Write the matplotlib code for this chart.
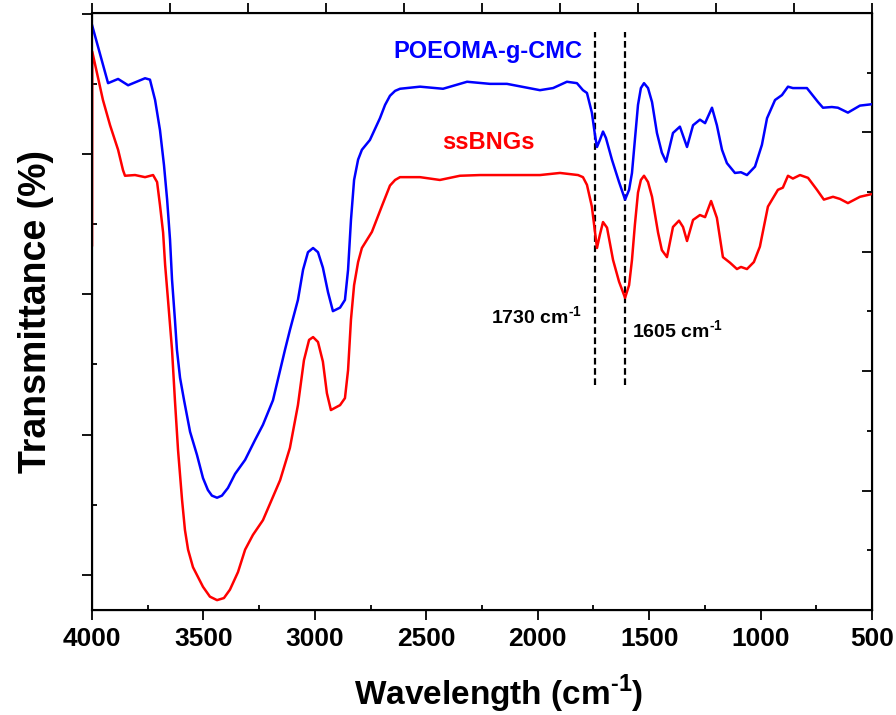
import numpy as np
import matplotlib
matplotlib.use("Agg")
import matplotlib.pyplot as plt
from matplotlib.ticker import MultipleLocator

# global style
plt.rcParams['font.family'] = ['Liberation Sans', 'DejaVu Sans']
plt.rcParams['font.weight'] = 'bold'
plt.rcParams['mathtext.fontset'] = 'custom'
plt.rcParams['mathtext.rm'] = 'Liberation Sans:bold'
plt.rcParams['mathtext.bf'] = 'Liberation Sans:bold'

# POEOMA-g-CMC spectrum (wavenumber, transmittance, arbitrary units)
wn_blue = [4000, 3928, 3883, 3838, 3762, 3740, 3717, 3695, 3677, 3663, 3650, 3641,
           3628, 3619, 3605, 3587, 3560, 3529, 3502, 3480, 3462, 3439, 3417, 3390,
           3358, 3313, 3269, 3233, 3188, 3134, 3112, 3076, 3053, 3031, 3008, 2986,
           2964, 2941, 2919, 2887, 2865, 2851, 2838, 2824, 2806, 2789, 2753, 2708,
           2685, 2663, 2640, 2618, 2528, 2425, 2317, 2214, 2138, 1990, 1931, 1869,
           1824, 1797, 1779, 1757, 1743, 1734, 1721, 1707, 1694, 1667, 1635, 1608,
           1590, 1577, 1564, 1550, 1537, 1523, 1505, 1487, 1465, 1443, 1424, 1393,
           1362, 1330, 1303, 1272, 1249, 1218, 1196, 1173, 1151, 1115, 1088, 1061,
           1025, 994, 971, 935, 904, 877, 855, 823, 792, 742, 720, 680, 653, 608,
           554, 500]
t_blue = [78.4, 70.1, 70.7, 69.8, 70.8, 70.6, 67.7, 63.4, 58.4, 53.5, 47.8, 42.1,
          36.4, 32.1, 28.1, 24.9, 20.4, 17.1, 13.8, 12.1, 11.3, 11.0, 11.3, 12.4,
          14.4, 16.4, 19.2, 21.4, 24.9, 32.1, 34.9, 39.2, 43.5, 46.0, 46.6, 46.0,
          43.8, 40.3, 37.6, 38.1, 39.2, 43.5, 50.6, 56.3, 59.2, 60.6, 62.0, 65.1,
          67.0, 68.3, 69.0, 69.3, 69.6, 69.3, 70.3, 70.0, 70.0, 69.1, 69.4, 70.3,
          70.1, 69.1, 68.7, 65.9, 62.7, 61.0, 62.0, 63.2, 62.3, 59.2, 56.0, 53.5,
          54.9, 57.3, 62.0, 67.0, 69.4, 70.1, 69.4, 67.4, 63.0, 60.2, 58.9, 63.0,
          63.9, 61.0, 64.1, 64.9, 64.4, 66.6, 64.1, 60.6, 58.7, 57.3, 57.4, 57.0,
          58.2, 61.3, 65.1, 67.7, 68.4, 69.6, 69.4, 69.4, 69.4, 67.4, 66.6, 66.7,
          66.6, 65.9, 66.9, 67.1]

# ssBNGs spectrum
wn_red = [4000, 3999, 3951, 3919, 3883, 3861, 3852, 3807, 3762, 3726, 3708, 3695,
          3681, 3672, 3659, 3641, 3628, 3614, 3596, 3583, 3569, 3547, 3502, 3471,
          3439, 3408, 3381, 3345, 3313, 3278, 3233, 3156, 3112, 3076, 3049, 3026,
          3008, 2986, 2964, 2946, 2928, 2887, 2865, 2851, 2838, 2824, 2806, 2789,
          2744, 2699, 2663, 2640, 2618, 2528, 2439, 2349, 2259, 2169, 1990, 1900,
          1819, 1797, 1779, 1757, 1743, 1734, 1721, 1707, 1689, 1662, 1635, 1608,
          1590, 1577, 1564, 1550, 1537, 1523, 1505, 1487, 1460, 1443, 1420, 1393,
          1366, 1348, 1330, 1303, 1272, 1249, 1222, 1196, 1169, 1137, 1106, 1088,
          1061, 1030, 1003, 967, 922, 900, 877, 855, 823, 787, 747, 716, 675, 644,
          608, 554, 500]
t_red = [47.0, 74.6, 67.7, 64.1, 60.6, 57.7, 56.9, 57.0, 56.7, 57.0, 56.0, 52.7,
         48.8, 44.2, 39.2, 32.1, 24.9, 17.8, 10.7, 6.4, 3.6, 1.1, -1.7, -3.1,
         -3.6, -3.3, -2.1, 0.4, 3.6, 5.7, 7.8, 13.5, 18.1, 24.2, 30.6, 33.5,
         33.9, 33.2, 30.4, 25.9, 23.5, 24.2, 25.2, 29.2, 36.4, 41.3, 44.6, 46.6,
         48.9, 52.6, 55.5, 56.3, 56.7, 56.7, 56.3, 56.9, 57.0, 57.0, 57.0, 57.3,
         57.0, 56.7, 55.6, 52.5, 48.9, 46.6, 48.5, 50.3, 49.5, 44.9, 41.8, 39.5,
         41.3, 44.9, 49.9, 54.5, 56.3, 56.9, 56.0, 53.9, 48.8, 46.3, 45.3, 49.6,
         50.5, 49.6, 47.6, 50.6, 51.3, 51.0, 53.3, 50.9, 45.3, 44.5, 43.6, 43.9,
         43.6, 44.6, 46.8, 52.5, 54.9, 55.2, 56.9, 56.5, 57.0, 56.6, 54.9, 53.5,
         53.9, 53.6, 53.0, 53.9, 54.3]

# marked peaks (as drawn)
peak_pos = [1743, 1608]
peak_labels = [r'1730 cm$^{\text{-}1}$', r'1605 cm$^{\text{-}1}$']

fig = plt.figure(figsize=(8.96, 7.15), dpi=100)
ax = fig.add_axes([0.1027, 0.1469, 0.8705, 0.8349])

ax.plot(wn_blue, t_blue, color='#0000FF', lw=1.8, zorder=3)
ax.plot(wn_red, t_red, color='#FF0000', lw=1.8, zorder=3)

for p in peak_pos:
    ax.plot([p, p], [27.1, 77.4], color='black', lw=1.6, dashes=(3, 1.6))

ax.text(2223, 74.6, 'POEOMA-g-CMC', color='#0000FF', fontsize=17,
        fontweight='bold', ha='center', va='center')
ax.text(2223, 61.6, 'ssBNGs', color='#FF0000', fontsize=17,
        fontweight='bold', ha='center', va='center')
ax.text(1801, 36.8, peak_labels[0], fontsize=14, fontweight='bold',
        ha='right', va='center')
ax.text(1577, 34.8, peak_labels[1], fontsize=14, fontweight='bold',
        ha='left', va='center')

ax.set_xlim(4000, 500)
ax.set_ylim(-5, 80.1)
ax.xaxis.set_major_locator(MultipleLocator(500))
ax.xaxis.set_minor_locator(MultipleLocator(250))
ax.yaxis.set_major_locator(MultipleLocator(20))
ax.yaxis.set_minor_locator(MultipleLocator(10))
ax.tick_params(which='major', direction='out', length=7.2, width=1.3,
               labelsize=19, pad=5)
ax.tick_params(which='minor', direction='in', length=3.6, width=1.3)
ax.tick_params(axis='y', which='both', labelleft=False)
for lab in ax.get_xticklabels():
    lab.set_fontweight('bold')
for sp in ax.spines.values():
    sp.set_linewidth(1.5)

ax.set_xlabel(r'Wavelength (cm$^{\text{-}1}$)', fontsize=24, fontweight='bold')
ax.xaxis.set_label_coords(0.522, -0.105)
ax.set_ylabel('Transmittance (%)', fontsize=27, fontweight='bold', labelpad=20)

# top axis
axt = ax.twiny()
axt.set_xlim(0, 10)
axt.xaxis.set_major_locator(MultipleLocator(1))
axt.tick_params(axis='x', direction='out', length=7.2, width=1.3, labeltop=False)

# right axis
axr = ax.twinx()
axr.set_ylim(0, 5)
axr.yaxis.set_major_locator(MultipleLocator(1))
axr.yaxis.set_minor_locator(MultipleLocator(0.5))
axr.tick_params(axis='y', which='major', direction='in', length=7.2, width=1.3, labelright=False)
axr.tick_params(axis='y', which='minor', direction='in', length=3.6, width=1.3)

fig.savefig('out.png', dpi=100)
